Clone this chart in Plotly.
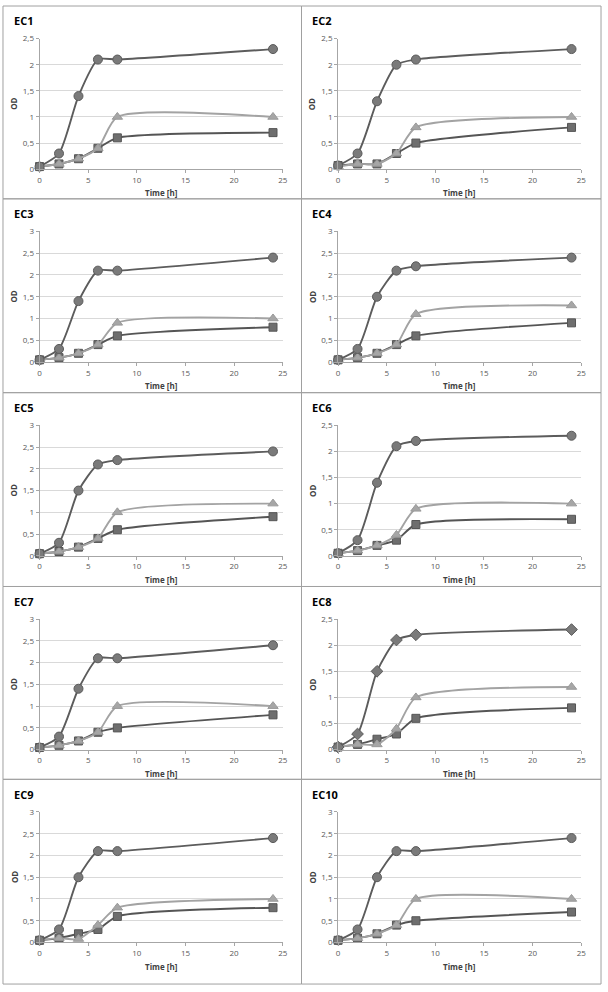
import plotly.graph_objects as go

W, H = 608, 992

time_h = [0, 2, 4, 6, 8, 24]
x_ticks = [0, 5, 10, 15, 20, 25]
panel_names = ["EC1", "EC2", "EC3", "EC4", "EC5", "EC6", "EC7", "EC8", "EC9", "EC10"]
y_max = [2.5, 2.5, 3, 3, 3, 2.5, 3, 2.5, 3, 3]

# circle (or diamond) series, triangle series, square series
EC1_c = [0.05, 0.3, 1.4, 2.1, 2.1, 2.3]
EC1_t = [0.05, 0.1, 0.2, 0.4, 1.0, 1.0]
EC1_s = [0.05, 0.1, 0.2, 0.4, 0.6, 0.7]

EC2_c = [0.07, 0.3, 1.3, 2.0, 2.1, 2.3]
EC2_t = [0.05, 0.1, 0.1, 0.3, 0.8, 1.0]
EC2_s = [0.07, 0.1, 0.1, 0.3, 0.5, 0.8]

EC3_c = [0.05, 0.3, 1.4, 2.1, 2.1, 2.4]
EC3_t = [0.05, 0.1, 0.2, 0.4, 0.9, 1.0]
EC3_s = [0.05, 0.1, 0.2, 0.4, 0.6, 0.8]

EC4_c = [0.05, 0.3, 1.5, 2.1, 2.2, 2.4]
EC4_t = [0.05, 0.1, 0.2, 0.4, 1.1, 1.3]
EC4_s = [0.05, 0.1, 0.2, 0.4, 0.6, 0.9]

EC5_c = [0.05, 0.3, 1.5, 2.1, 2.2, 2.4]
EC5_t = [0.05, 0.1, 0.2, 0.4, 1.0, 1.2]
EC5_s = [0.05, 0.1, 0.2, 0.4, 0.6, 0.9]

EC6_c = [0.05, 0.3, 1.4, 2.1, 2.2, 2.3]
EC6_t = [0.05, 0.1, 0.2, 0.4, 0.9, 1.0]
EC6_s = [0.05, 0.1, 0.2, 0.3, 0.6, 0.7]

EC7_c = [0.05, 0.3, 1.4, 2.1, 2.1, 2.4]
EC7_t = [0.05, 0.1, 0.2, 0.4, 1.0, 1.0]
EC7_s = [0.05, 0.1, 0.2, 0.4, 0.5, 0.8]

EC8_c = [0.05, 0.3, 1.5, 2.1, 2.2, 2.3]
EC8_t = [0.05, 0.1, 0.1, 0.4, 1.0, 1.2]
EC8_s = [0.05, 0.1, 0.2, 0.3, 0.6, 0.8]

EC9_c = [0.05, 0.3, 1.5, 2.1, 2.1, 2.4]
EC9_t = [0.05, 0.1, 0.08, 0.4, 0.8, 1.0]
EC9_s = [0.05, 0.1, 0.2, 0.3, 0.6, 0.8]

EC10_c = [0.05, 0.3, 1.5, 2.1, 2.1, 2.4]
EC10_t = [0.05, 0.1, 0.2, 0.4, 1.0, 1.0]
EC10_s = [0.05, 0.1, 0.2, 0.4, 0.5, 0.7]

circle_series = [EC1_c, EC2_c, EC3_c, EC4_c, EC5_c, EC6_c, EC7_c, EC8_c, EC9_c, EC10_c]
tri_series = [EC1_t, EC2_t, EC3_t, EC4_t, EC5_t, EC6_t, EC7_t, EC8_t, EC9_t, EC10_t]
sq_series = [EC1_s, EC2_s, EC3_s, EC4_s, EC5_s, EC6_s, EC7_s, EC8_s, EC9_s, EC10_s]
fast_symbol = ["circle"] * 7 + ["diamond"] + ["circle"] * 2

row_top = [0, 195, 391, 587, 782]
row_bot = [195, 391, 587, 782, 989]
col_left = [0, 302]
box_left = [1, 303]
box_right = [303, 606]

PX0, PX1 = 38, 284
PY0, PY1 = 33, 165
SMOOTH = 0.65

fig = go.Figure()
shapes = []
annotations = []

FONT = "Open Sans"
tick_font = dict(family=FONT, size=8, color="#595959")

for i, name in enumerate(panel_names):
    r, c = divmod(i, 2)
    xl = col_left[c]
    yt = row_top[r]
    xa = "x" if i == 0 else f"x{i+1}"
    ya = "y" if i == 0 else f"y{i+1}"
    xkey = "xaxis" if i == 0 else f"xaxis{i+1}"
    ykey = "yaxis" if i == 0 else f"yaxis{i+1}"
    xdom = [(xl + PX0) / W, (xl + PX1) / W]
    ydom = [1 - (yt + PY1) / H, 1 - (yt + PY0) / H]
    ymax = y_max[i]
    fig.update_layout(**{
        xkey: dict(domain=xdom, anchor=ya, range=[0, 25], tickvals=x_ticks,
                   showgrid=False, zeroline=False, showline=True, linecolor="#a6a6a6",
                   linewidth=1, ticks="outside", ticklen=3, tickcolor="#a6a6a6",
                   tickfont=tick_font, fixedrange=True),
        ykey: dict(domain=ydom, anchor=xa, range=[0, ymax],
                   tickvals=[v * 0.5 for v in range(int(ymax / 0.5) + 1)],
                   showgrid=True, gridcolor="#d9d9d9", gridwidth=1, zeroline=False,
                   showline=True, linecolor="#a6a6a6", linewidth=1, ticks="outside",
                   ticklen=3, tickcolor="#a6a6a6", tickfont=tick_font, fixedrange=True),
    })
    # square series
    fig.add_trace(go.Scatter(
        x=time_h, y=sq_series[i], xaxis=xa, yaxis=ya, mode="lines+markers",
        line=dict(shape="spline", smoothing=SMOOTH, color="#555555", width=1.9),
        marker=dict(symbol="square", size=8, color="#6e6e6e",
                    line=dict(color="#555555", width=1)),
        cliponaxis=False, showlegend=False))
    # triangle series
    fig.add_trace(go.Scatter(
        x=time_h, y=tri_series[i], xaxis=xa, yaxis=ya, mode="lines+markers",
        line=dict(shape="spline", smoothing=SMOOTH, color="#a3a3a3", width=1.9),
        marker=dict(symbol="triangle-up", size=9, color="#a6a6a6",
                    line=dict(color="#999999", width=1)),
        cliponaxis=False, showlegend=False))
    # circle series
    fig.add_trace(go.Scatter(
        x=time_h, y=circle_series[i], xaxis=xa, yaxis=ya, mode="lines+markers",
        line=dict(shape="spline", smoothing=SMOOTH, color="#5c5c5c", width=1.9),
        marker=dict(symbol=fast_symbol[i], size=9, color="#7a7a7a",
                    line=dict(color="#5a5a5a", width=1)),
        cliponaxis=False, showlegend=False))

    # panel border
    shapes.append(dict(type="rect", xref="paper", yref="paper",
                       x0=box_left[c] / W, x1=box_right[c] / W,
                       y0=1 - row_bot[r] / H, y1=1 - row_top[r] / H,
                       line=dict(color="#a0a0a0", width=1), layer="below"))
    # panel title
    annotations.append(dict(text=f"<b>{name}</b>", xref="paper", yref="paper",
                            x=(xl + 10) / W, y=1 - (yt + 15) / H, xanchor="left",
                            yanchor="middle", showarrow=False,
                            font=dict(family=FONT, size=11, color="#000000")))
    # y title
    annotations.append(dict(text="<b>OD</b>", xref="paper", yref="paper",
                            x=(xl + 12) / W, y=1 - (yt + (PY0 + PY1) / 2) / H,
                            xanchor="center", yanchor="middle", textangle=-90,
                            showarrow=False,
                            font=dict(family=FONT, size=8, color="#404040")))
    # x title
    annotations.append(dict(text="<b>Time [h]</b>", xref="paper", yref="paper",
                            x=(xl + (PX0 + PX1) / 2) / W, y=1 - (yt + 189) / H,
                            xanchor="center", yanchor="middle", showarrow=False,
                            font=dict(family=FONT, size=8, color="#404040")))

fig.update_layout(width=W, height=H, margin=dict(l=0, r=0, t=0, b=0),
                  paper_bgcolor="white", plot_bgcolor="white",
                  separators=",.", shapes=shapes, annotations=annotations,
                  showlegend=False)

fig.write_html("out.html", config={"displayModeBar": False},
               post_script="document.body.style.margin='0';document.body.style.overflow='hidden';")
